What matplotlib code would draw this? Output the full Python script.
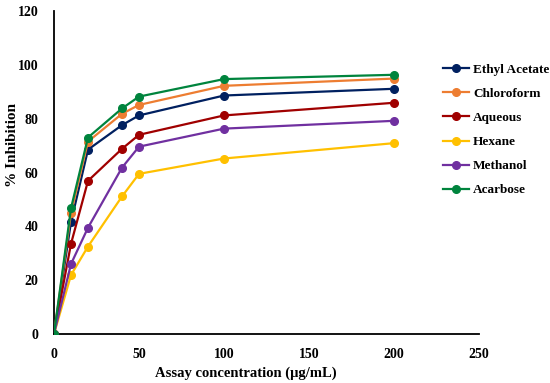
import matplotlib
matplotlib.use("Agg")
import matplotlib.pyplot as plt

x = [0, 10, 20, 40, 50, 100, 200]
labels = ["Ethyl Acetate", "Chloroform", "Aqueous", "Hexane", "Methanol", "Acarbose"]
ethyl = [0, 41.6, 68.5, 77.6, 81.2, 88.6, 91.1]
chloro = [0, 44.9, 71.5, 81.8, 85.1, 92.2, 94.9]
aqueous = [0, 33.5, 56.9, 68.8, 74.0, 81.2, 85.9]
hexane = [0, 21.9, 32.5, 51.1, 59.5, 65.2, 70.9]
methanol = [0, 26.0, 39.5, 61.8, 69.6, 76.3, 79.2]
acarbose = [0, 46.7, 73.0, 83.8, 88.2, 94.7, 96.3]
colors = ["#002060", "#ED7D31", "#A00000", "#FFC000", "#7030A0", "#00843D"]
series = [ethyl, chloro, aqueous, hexane, methanol, acarbose]

plt.rcParams['font.family'] = ['Liberation Serif', 'DejaVu Serif']
fig = plt.figure(figsize=(5.5, 3.83), dpi=100)
ax = fig.add_axes([54/550, 1-334/383, (479-54)/550, (334-11)/383])

handles = []
for s, c, l in zip(series, colors, labels):
    h, = ax.plot(x, s, color=c, marker='o', markersize=5.5, linewidth=1.6, label=l, zorder=3)
    handles.append(h)

ax.set_xlim(0, 250)
ax.set_ylim(0, 120)
ax.set_xticks([0, 50, 100, 150, 200, 250])
ax.set_yticks([0, 20, 40, 60, 80, 100, 120])
ax.tick_params(length=0, labelsize=10)
ax.tick_params(axis='x', pad=10)
ax.tick_params(axis='y', pad=11)
for t in ax.get_xticklabels() + ax.get_yticklabels():
    t.set_fontweight('bold')
for sp in ['top', 'right']:
    ax.spines[sp].set_visible(False)
for sp in ['left', 'bottom']:
    ax.spines[sp].set_linewidth(1.3)
    ax.spines[sp].set_color('black')

fig.text(246/550, 1-373/383, "Assay concentration (μg/mL)", fontsize=10.5,
         fontweight='bold', ha='center', va='center')
fig.text(13/550, 1-145/383, "% Inhibition", fontsize=11, fontweight='bold',
         ha='center', va='center', rotation=90)

fig.legend(handles=handles, loc='upper left', bbox_to_anchor=(436/550, 1-57/383),
           frameon=False, prop={'weight': 'bold', 'size': 9.5},
           labelspacing=0.9, handlelength=2.0, handletextpad=0.3, borderpad=0)

fig.savefig("out.png", dpi=100)
